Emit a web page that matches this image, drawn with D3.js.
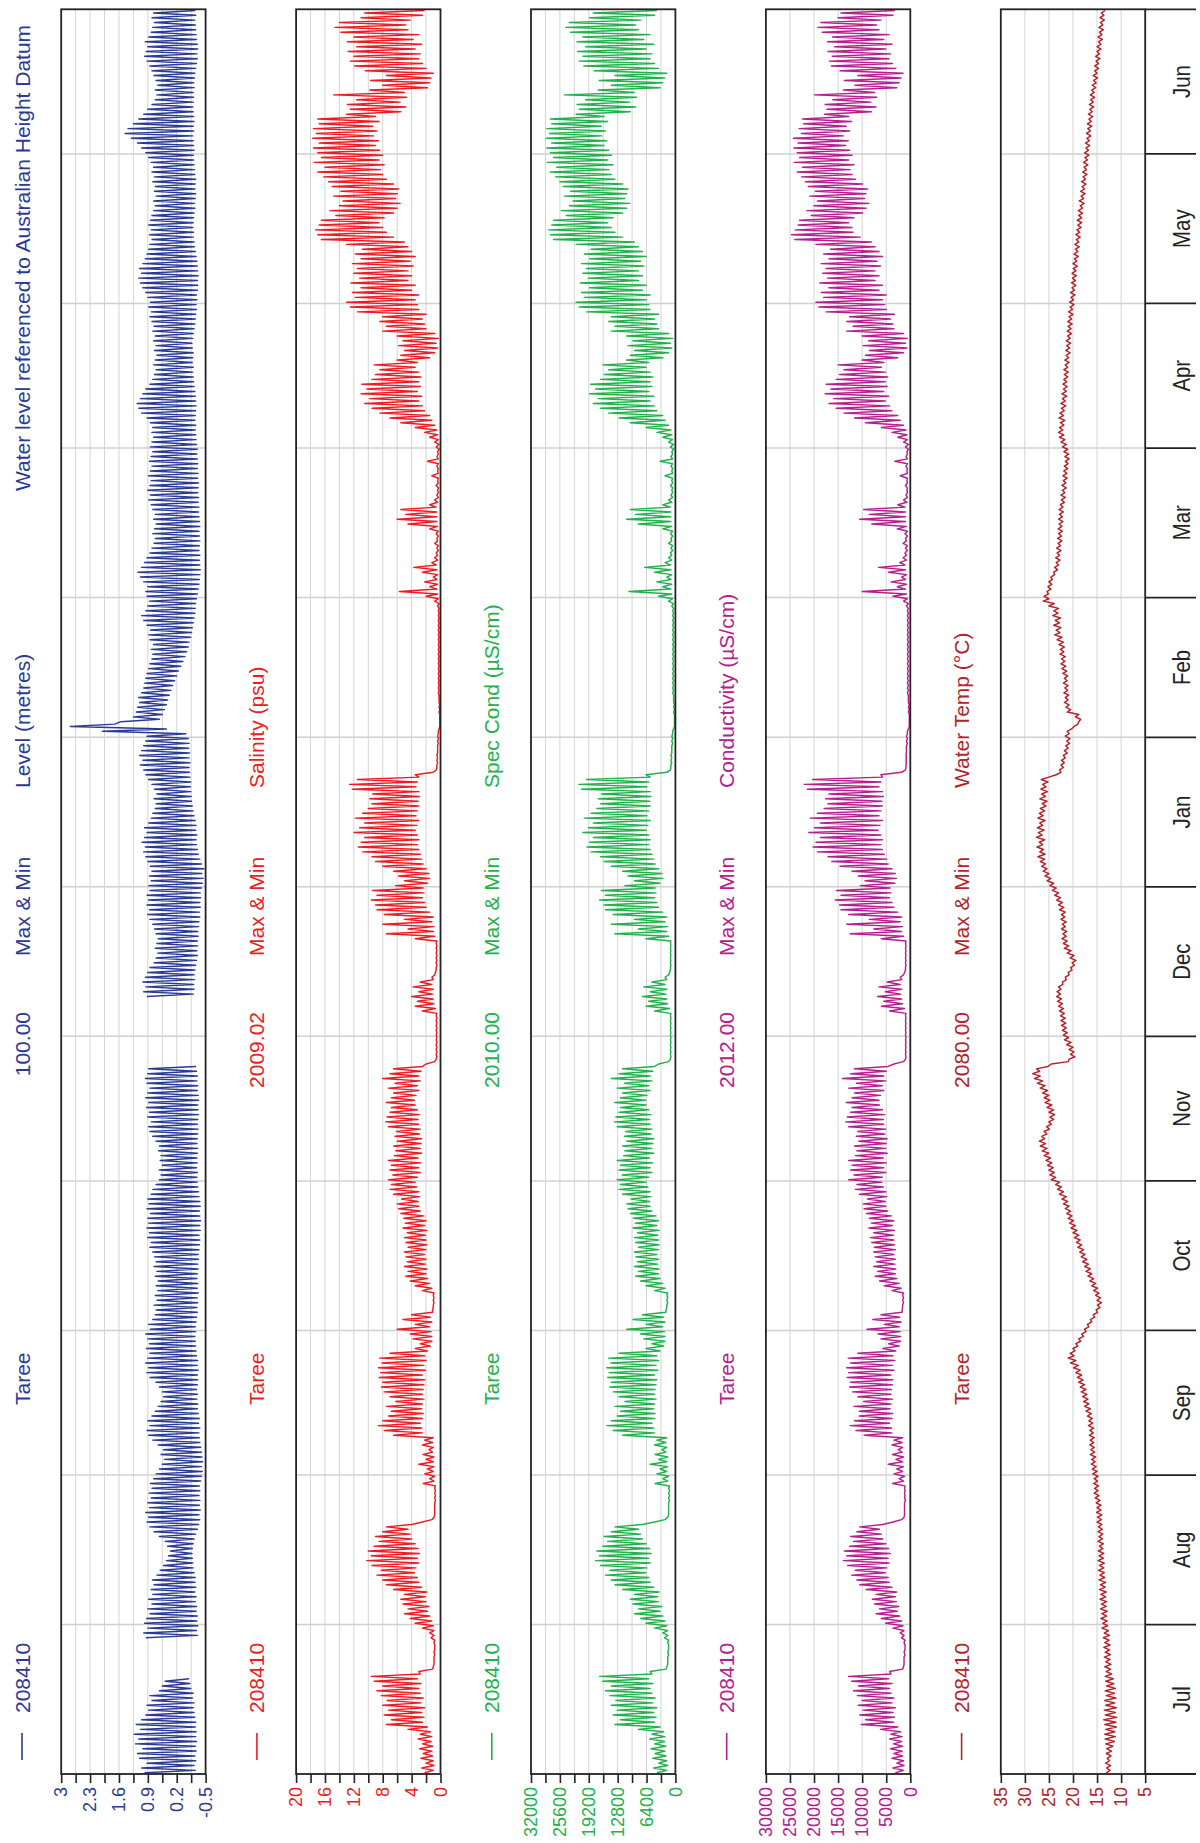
<!DOCTYPE html>
<html><head><meta charset="utf-8">
<script src="https://cdn.jsdelivr.net/npm/d3@7"></script>
<style>body{margin:0;background:#fff}svg{display:block}text{font-family:"Liberation Sans",Arial,Helvetica,sans-serif}</style>
</head><body>
<svg id="chart" width="1200" height="1843"></svg>
<script>
// ---------- time / categories ----------
const START = Date.UTC(2011, 6, 1), END = Date.UTC(2012, 6, 1);
const monthLabels = ["Jul","Aug","Sep","Oct","Nov","Dec","Jan","Feb","Mar","Apr","May","Jun"];
const siteId = "208410", siteName = "Taree", statLabel = "Max & Min";

// ---------- tick labels ----------
const levelTicks = [3, 2.3, 1.6, 0.9, 0.2, -0.5];
const levelMinor = [2.65, 1.95, 1.25, 0.55, -0.15];
const salTicks = [20, 16, 12, 8, 4, 0];
const salMinor = [18, 14, 10, 6, 2];
const specTicks = [32000, 25600, 19200, 12800, 6400, 0];
const specMinor = [28800, 22400, 16000, 9600, 3200];
const condTicks = [30000, 25000, 20000, 15000, 10000, 5000, 0];
const tempTicks = [35, 30, 25, 20, 15, 10, 5];

// ---------- daily Max & Min values (day 0 = 1 Jul) ----------
const levelMax = [
0.98,1.05,0.92,1.10,1.15,1.02,1.20,1.12,1.23,1.08,
1.18,1.05,0.95,0.88,0.92,0.80,0.85,0.62,0.55,0.48,
null,null,null,null,null,null,null,null,
0.95,1.00,0.90,0.98,0.93,0.85,0.90,0.80,0.88,0.78,
0.82,0.75,0.79,0.68,0.60,0.52,0.45,0.40,0.35,0.42,
0.48,0.62,0.75,0.85,0.92,0.88,0.95,0.86,0.90,0.82,
0.87,0.80,0.84,0.76,0.70,0.62,0.55,0.50,0.58,0.52,
0.65,0.78,0.88,0.92,0.85,0.90,0.80,0.72,0.65,0.58,
0.52,0.55,0.62,0.70,0.85,0.92,0.88,0.95,0.90,0.85,
0.93,0.86,0.90,0.95,0.84,0.88,0.78,0.72,0.70,0.75,
0.68,0.72,0.66,0.70,0.65,0.72,0.68,0.75,0.70,0.74,
0.78,0.85,0.82,0.90,0.86,0.92,0.88,0.90,0.84,0.92,
0.87,0.90,0.82,0.78,0.70,0.62,0.58,0.62,0.55,0.60,
0.58,0.64,0.62,0.70,0.78,0.85,0.88,0.82,0.90,0.86,
0.93,0.88,0.95,0.90,0.85,0.92,0.96,0.90,0.88,
null,null,null,null,null,null,null,null,null,null,null,null,null,null,
0.92,1.00,0.95,1.02,0.96,0.90,0.85,0.75,0.70,0.66,
0.72,0.68,0.65,0.70,0.74,0.78,0.85,0.90,0.86,0.92,
0.88,0.92,0.85,0.88,0.82,0.86,0.80,0.84,0.90,0.95,
1.00,0.96,1.04,0.98,0.92,0.98,0.88,0.82,0.78,0.72,
0.70,0.75,0.68,0.74,0.80,0.88,0.95,1.00,1.08,1.02,
1.10,1.05,1.00,0.95,0.92,2.00,2.78,1.55,1.25,1.18,
1.15,1.10,1.12,1.05,1.00,0.98,0.95,0.92,0.88,0.85,
0.80,0.78,0.82,0.76,0.85,0.88,0.84,0.92,1.00,1.05,
0.95,0.90,0.86,0.92,0.95,0.90,1.00,1.08,1.14,1.05,
0.98,0.92,0.85,0.80,0.75,0.72,0.78,0.74,0.70,0.76,
0.72,0.78,0.82,0.88,0.84,0.90,0.85,0.82,0.88,0.84,
0.80,0.86,0.82,0.78,0.84,0.80,0.76,0.80,0.78,0.84,
0.92,1.05,1.12,1.16,1.08,1.02,0.95,0.85,0.78,0.74,
0.70,0.76,0.72,0.68,0.74,0.70,0.76,0.72,0.78,0.75,
0.80,0.85,0.82,0.88,0.84,0.90,0.95,1.02,1.08,1.12,
1.05,1.10,1.02,0.96,0.92,0.88,0.85,0.80,0.86,0.82,
0.88,0.84,0.80,0.76,0.72,0.76,0.70,0.74,0.72,0.78,
0.74,0.80,0.76,0.82,0.88,0.95,1.05,1.15,1.30,1.45,
1.38,1.25,1.12,1.00,0.90,0.80,0.72,0.68,0.72,0.66,
0.70,0.75,0.80,0.85,0.92,0.98,0.94,0.90,0.96,0.88,
0.82,0.78,0.74,0.80,0.76];
const levelMin = [
-0.25,-0.22,-0.26,-0.24,-0.27,-0.25,-0.28,-0.26,-0.27,-0.25,
-0.26,-0.24,-0.22,-0.20,-0.22,-0.18,-0.20,-0.14,-0.12,-0.10,
null,null,null,null,null,null,null,null,
-0.30,-0.28,-0.31,-0.29,-0.30,-0.27,-0.28,-0.25,-0.27,-0.24,
-0.26,-0.24,-0.25,-0.22,-0.20,-0.19,-0.18,-0.17,-0.18,-0.20,
-0.22,-0.26,-0.30,-0.33,-0.36,-0.34,-0.37,-0.35,-0.36,-0.34,
-0.36,-0.35,-0.38,-0.40,-0.42,-0.40,-0.43,-0.41,-0.40,-0.38,
-0.36,-0.35,-0.34,-0.36,-0.33,-0.35,-0.32,-0.30,-0.31,-0.29,
-0.30,-0.28,-0.30,-0.31,-0.30,-0.32,-0.30,-0.31,-0.28,-0.27,
-0.26,-0.25,-0.24,-0.26,-0.25,-0.27,-0.28,-0.30,-0.29,-0.31,
-0.30,-0.32,-0.30,-0.31,-0.29,-0.30,-0.32,-0.31,-0.33,-0.32,
-0.34,-0.35,-0.36,-0.34,-0.37,-0.36,-0.38,-0.36,-0.35,-0.37,
-0.36,-0.34,-0.33,-0.31,-0.30,-0.29,-0.30,-0.28,-0.30,-0.29,
-0.30,-0.31,-0.29,-0.30,-0.31,-0.32,-0.30,-0.31,-0.33,-0.32,
-0.31,-0.33,-0.32,-0.30,-0.31,-0.29,-0.30,-0.28,-0.27,
null,null,null,null,null,null,null,null,null,null,null,null,null,null,
-0.20,-0.22,-0.21,-0.23,-0.22,-0.24,-0.26,-0.28,-0.30,-0.29,
-0.31,-0.30,-0.32,-0.31,-0.33,-0.34,-0.36,-0.35,-0.37,-0.36,
-0.38,-0.37,-0.40,-0.42,-0.44,-0.41,-0.46,-0.40,-0.36,-0.32,
-0.30,-0.28,-0.27,-0.29,-0.26,-0.27,-0.25,-0.22,-0.20,-0.18,
-0.16,-0.15,-0.14,-0.13,-0.14,-0.12,-0.11,-0.10,-0.12,-0.10,
-0.11,-0.09,-0.10,-0.08,-0.02,0.45,1.70,0.62,0.55,0.50,
0.45,0.42,0.38,0.34,0.30,0.25,0.20,0.16,0.10,0.05,
0.00,-0.04,-0.08,-0.10,-0.14,-0.16,-0.18,-0.20,-0.22,-0.24,
-0.25,-0.26,-0.28,-0.30,-0.32,-0.34,-0.35,-0.36,-0.37,-0.36,
-0.35,-0.36,-0.34,-0.35,-0.36,-0.35,-0.34,-0.36,-0.35,-0.34,
-0.33,-0.34,-0.32,-0.33,-0.31,-0.32,-0.33,-0.31,-0.32,-0.30,
-0.31,-0.30,-0.29,-0.30,-0.28,-0.27,-0.26,-0.25,-0.26,-0.24,
-0.25,-0.26,-0.27,-0.26,-0.25,-0.24,-0.22,-0.21,-0.20,-0.19,
-0.20,-0.18,-0.19,-0.20,-0.18,-0.17,-0.19,-0.20,-0.22,-0.24,
-0.25,-0.26,-0.28,-0.27,-0.29,-0.28,-0.30,-0.31,-0.30,-0.32,
-0.31,-0.30,-0.29,-0.27,-0.25,-0.23,-0.22,-0.20,-0.21,-0.19,
-0.20,-0.21,-0.22,-0.24,-0.23,-0.25,-0.26,-0.24,-0.25,-0.26,
-0.24,-0.23,-0.22,-0.21,-0.20,-0.22,-0.21,-0.20,-0.19,-0.21,
-0.20,-0.22,-0.21,-0.20,-0.19,-0.20,-0.21,-0.20,-0.22,-0.21,
-0.23,-0.24,-0.26,-0.28,-0.30,-0.29,-0.31,-0.30,-0.28,-0.27,
-0.26,-0.25,-0.24,-0.26,-0.25];

const salMax = [
2.2,2.6,2.0,2.7,2.4,2.9,2.5,3.1,2.8,4.5,
7.5,6.8,7.8,7.2,8.0,7.4,8.2,8.8,8.0,9.2,
9.6,3.0,1.0,0.9,0.9,0.9,0.8,0.9,1.3,1.5,
2.5,3.5,4.2,5.0,4.5,5.2,5.5,5.0,6.5,7.5,
8.0,8.8,8.2,9.5,10.2,9.6,10.0,9.2,8.5,9.0,
8.0,7.5,2.5,0.9,0.8,0.8,0.8,0.8,0.8,0.8,
2.4,1.5,2.2,1.8,3.0,2.0,2.4,1.6,2.5,2.2,
6.5,7.8,8.6,8.0,7.2,6.8,7.5,6.2,7.0,7.8,
8.2,8.0,8.5,8.3,8.6,8.1,8.4,7.0,3.5,2.8,
3.8,4.2,6.0,3.5,5.2,4.0,1.1,1.0,1.0,1.0,
2.5,3.5,4.2,4.8,4.5,5.0,4.6,4.8,5.0,4.5,
4.8,5.0,4.6,5.2,4.9,5.1,5.5,5.8,6.0,5.4,
6.5,7.0,6.8,7.2,6.6,7.0,6.8,7.2,6.4,6.2,
6.5,6.0,6.3,6.1,7.2,7.6,7.4,7.0,6.8,7.5,
6.8,6.5,7.2,6.3,8.0,7.0,6.5,2.0,0.6,0.6,
0.6,0.6,0.6,0.6,0.6,0.6,0.6,0.6,2.5,3.5,
3.2,4.0,3.0,3.8,2.8,1.2,0.7,0.6,0.6,0.6,
0.6,0.6,0.6,3.5,7.5,4.5,8.0,5.0,7.8,8.8,
9.0,9.6,8.8,9.4,6.2,5.0,5.8,6.5,8.0,9.0,
9.5,10.8,11.4,11.0,10.5,12.0,11.2,10.5,11.8,10.8,
10.0,9.5,9.8,9.4,12.2,12.6,11.5,3.5,0.6,0.5,
0.5,0.5,0.4,0.4,0.4,0.4,0.3,0.1,0.1,0.1,
0.2,0.2,0.2,0.2,0.3,0.3,0.3,0.3,0.3,0.3,
0.3,0.3,0.3,0.3,0.3,0.3,0.3,0.3,0.3,0.3,
0.3,0.3,0.4,0.8,2.0,5.7,1.5,2.2,1.0,2.5,
3.7,1.2,0.8,0.6,0.5,0.8,0.5,0.6,1.5,4.5,
6.0,4.8,5.5,1.5,0.8,0.5,0.4,0.6,0.4,1.2,
0.4,0.5,1.8,0.5,0.4,0.6,0.8,1.5,2.2,3.5,
5.5,7.0,8.4,9.5,10.5,9.8,11.0,10.2,10.9,9.5,
9.0,8.4,9.2,6.0,5.5,5.0,5.8,5.2,6.0,8.0,
7.5,8.4,8.0,11.5,12.5,13.0,11.8,12.2,11.0,12.4,
11.2,12.0,11.5,12.2,11.0,11.8,10.8,13.0,16.5,17.0,
17.3,16.8,16.5,14.5,15.3,14.0,13.5,14.8,13.8,15.0,
15.5,16.2,17.0,16.0,17.5,16.5,17.0,17.6,16.8,17.7,
17.2,17.6,16.8,17.0,13.0,12.5,12.9,11.6,14.8,9.8,
8.0,9.7,7.5,10.4,11.9,12.5,12.0,12.8,11.6,12.9,
12.0,13.8,14.6,14.0,11.0,10.5];
const salMin = [
1.0,0.9,1.0,1.1,1.2,1.1,1.3,1.2,1.4,1.8,
2.5,2.3,2.6,2.2,2.7,2.4,2.8,3.0,2.7,3.2,
2.8,1.1,0.9,0.9,0.8,0.8,0.8,0.8,0.9,0.9,
1.0,1.2,1.5,1.8,1.6,2.0,2.1,1.9,2.6,3.0,
3.2,3.6,3.4,3.0,3.2,2.9,3.1,3.5,4.0,4.2,
4.5,4.0,1.2,0.8,0.8,0.8,0.7,0.7,0.7,0.7,
0.9,0.8,1.0,0.9,1.0,0.9,1.1,1.0,1.1,1.0,
2.5,2.6,2.8,2.5,2.4,2.6,2.5,2.3,2.5,2.4,
2.3,2.2,2.5,2.1,2.3,2.0,2.2,1.8,1.4,1.2,
1.2,1.3,1.5,1.2,1.4,1.1,1.0,0.9,0.9,0.9,
1.2,1.5,1.8,2.0,1.9,2.1,2.0,2.2,2.0,1.9,
2.0,2.1,1.9,2.2,2.0,2.3,2.8,3.0,3.1,2.9,
3.0,3.3,3.5,3.2,2.8,3.0,2.7,3.1,2.6,2.8,
2.7,2.6,2.9,2.8,3.0,3.1,2.9,3.2,3.5,3.6,
3.4,3.0,3.2,2.8,3.0,2.7,2.5,0.8,0.5,0.5,
0.5,0.5,0.5,0.5,0.5,0.5,0.5,0.5,0.7,0.9,
1.0,1.1,1.0,1.2,1.0,0.8,0.6,0.5,0.5,0.5,
0.5,0.5,0.5,0.8,1.0,0.9,1.2,1.0,1.5,2.0,
2.2,2.5,2.3,2.4,1.8,1.5,1.6,2.0,2.4,2.6,
2.8,3.0,3.2,3.0,3.2,3.5,3.3,3.0,3.4,3.2,
3.0,3.1,2.9,3.0,3.4,3.2,3.0,1.0,0.5,0.4,
0.4,0.4,0.4,0.3,0.3,0.3,0.2,0.1,0.1,0.1,
0.1,0.1,0.2,0.2,0.2,0.2,0.2,0.2,0.2,0.2,
0.2,0.2,0.2,0.2,0.2,0.2,0.2,0.2,0.2,0.2,
0.2,0.2,0.2,0.3,0.4,0.5,0.4,0.5,0.4,0.5,
0.6,0.4,0.4,0.3,0.3,0.4,0.3,0.3,0.4,0.5,
0.5,0.5,0.6,0.4,0.3,0.3,0.3,0.3,0.3,0.3,
0.3,0.3,0.3,0.3,0.2,0.2,0.3,0.4,0.5,0.8,
1.2,1.5,2.2,2.5,3.0,2.6,3.2,2.8,3.0,2.7,
3.0,3.5,3.2,1.5,0.8,0.4,0.6,0.3,0.8,2.0,
2.2,2.5,2.0,3.0,3.2,3.5,3.0,4.0,3.5,4.5,
4.0,4.5,3.8,4.2,3.5,4.0,4.5,5.0,6.5,7.5,
8.0,8.5,7.8,6.5,6.0,5.6,6.2,6.0,5.8,6.5,
7.5,8.0,8.3,7.8,8.5,8.0,8.4,9.0,8.6,9.3,
8.8,9.4,8.5,9.0,5.5,4.8,5.6,4.7,5.0,1.8,
1.5,1.3,1.0,2.0,2.5,3.0,2.8,3.5,2.6,3.8,
3.0,4.5,4.8,4.2,2.5,2.2];

const specMax = [
4100,4800,3700,5000,4500,5400,4600,5700,5200,8200,
13400,12200,13800,12900,14200,13200,14500,15500,14200,16100,
16800,5600,1900,1700,1700,1700,1500,1700,2400,2800,
4600,6500,7700,9100,8200,9400,10000,9100,11700,13400,
14200,15500,14500,16600,17700,16800,17400,16100,15000,15800,
14200,13400,4600,1700,1500,1500,1500,1500,1500,1500,
4500,2800,4100,3400,5600,3700,4500,3000,4600,4100,
11700,13800,15200,14200,12900,12200,13400,11200,12500,13800,
14500,14200,15000,14700,15200,14300,14800,12500,6500,5200,
7000,7700,10800,6500,9400,7300,2100,1900,1900,1900,
4600,6500,7700,8800,8200,9100,8400,8800,9100,8200,
8800,9100,8400,9400,8900,9300,10000,10500,10800,9800,
11700,12500,12200,12900,11800,12500,12200,12900,11500,11200,
11700,10800,11300,11000,12900,13500,13200,12500,12200,13400,
12200,11700,12900,11300,14200,12500,11700,3700,1100,1100,
1100,1100,1100,1100,1100,1100,1100,1100,4600,6500,
5900,7300,5600,7000,5200,2300,1300,1100,1100,1100,
1100,1100,1100,6500,13400,8200,14200,9100,13800,15500,
15800,16800,15500,16400,11200,9100,10500,11700,14200,15800,
16600,18700,19600,19000,18200,20500,19300,18200,20200,18700,
17400,16600,17100,16400,20800,21400,19700,6500,1100,1000,
1000,1000,800,800,800,800,600,200,200,200,
400,400,400,400,600,600,600,600,600,600,
600,600,600,600,600,600,600,600,600,600,
600,600,800,1500,3700,10300,2800,4100,1900,4600,
6800,2300,1500,1100,1000,1500,1000,1100,2800,8200,
10800,8800,10000,2800,1500,1000,800,1100,800,2300,
800,1000,3400,1000,800,1100,1500,2800,4100,6500,
10000,12500,14800,16600,18200,17100,19000,17700,18800,16600,
15800,14800,16100,10800,10000,9100,10500,9400,10800,14200,
13400,14800,14200,19700,21300,22000,20200,20800,19000,21100,
19300,20500,19700,20800,19000,20200,18700,22000,27000,27700,
28100,27400,27000,24200,25300,23500,22700,24600,23200,24900,
25600,26600,27700,26300,28400,27000,27700,28500,27400,28600,
27900,28500,27400,27700,22000,21300,21800,19900,24600,17100,
14200,16900,13400,18000,20300,21300,20500,21700,19900,21800,
20500,23200,24300,23500,19000,18200];
const specMin = [
1900,1700,1900,2100,2300,2100,2400,2300,2600,3400,
4600,4300,4800,4100,5000,4500,5200,5600,5000,5900,
5200,2100,1700,1700,1500,1500,1500,1500,1700,1700,
1900,2300,2800,3400,3000,3700,3900,3600,4800,5600,
5900,6600,6300,5600,5900,5400,5700,6500,7300,7700,
8200,7300,2300,1500,1500,1500,1300,1300,1300,1300,
1700,1500,1900,1700,1900,1700,2100,1900,2100,1900,
4600,4800,5200,4600,4500,4800,4600,4300,4600,4500,
4300,4100,4600,3900,4300,3700,4100,3400,2600,2300,
2300,2400,2800,2300,2600,2100,1900,1700,1700,1700,
2300,2800,3400,3700,3600,3900,3700,4100,3700,3600,
3700,3900,3600,4100,3700,4300,5200,5600,5700,5400,
5600,6100,6500,5900,5200,5600,5000,5700,4800,5200,
5000,4800,5400,5200,5600,5700,5400,5900,6500,6600,
6300,5600,5900,5200,5600,5000,4600,1500,1000,1000,
1000,1000,1000,1000,1000,1000,1000,1000,1300,1700,
1900,2100,1900,2300,1900,1500,1100,1000,1000,1000,
1000,1000,1000,1500,1900,1700,2300,1900,2800,3700,
4100,4600,4300,4500,3400,2800,3000,3700,4500,4800,
5200,5600,5900,5600,5900,6500,6100,5600,6300,5900,
5600,5700,5400,5600,6300,5900,5600,1900,1000,800,
800,800,800,600,600,600,400,200,200,200,
200,200,400,400,400,400,400,400,400,400,
400,400,400,400,400,400,400,400,400,400,
400,400,400,600,800,1000,800,1000,800,1000,
1100,800,800,600,600,800,600,600,800,1000,
1000,1000,1100,800,600,600,600,600,600,600,
600,600,600,600,400,400,600,800,1000,1500,
2300,2800,4100,4600,5600,4800,5900,5200,5600,5000,
5600,6500,5900,2800,1500,800,1100,600,1500,3700,
4100,4600,3700,5600,5900,6500,5600,7300,6500,8200,
7300,8200,7000,7700,6500,7300,8200,9100,11700,13400,
14200,15000,13800,11700,10800,10100,11200,10800,10500,11700,
13400,14200,14700,13800,15000,14200,14800,15800,15200,16300,
15500,16400,15000,15800,10000,8800,10100,8600,9100,3400,
2800,2400,1900,3700,4600,5600,5200,6500,4800,7000,
5600,8200,8800,7700,4600,4100];

const condMax = [
3100,3600,2800,3800,3400,4100,3500,4300,4000,6200,
10200,9300,10500,9800,10800,10000,11000,11800,10800,12200,
12800,4300,1400,1300,1300,1300,1100,1300,1800,2100,
3600,5100,6000,7100,6400,7400,7900,7100,9200,10500,
11100,12200,11400,13000,13900,13200,13700,12600,11800,12400,
11100,10500,3600,1300,1200,1200,1200,1200,1200,1200,
3700,2300,3400,2800,4600,3000,3700,2500,3800,3400,
9600,11300,12500,11600,10600,10600,11700,9700,10900,12000,
12600,12400,13100,12800,13200,12400,12900,10900,5700,4500,
6100,6700,9000,5400,7800,6100,1700,1600,1600,1600,
3800,5400,6400,7300,6800,7600,7000,7300,7600,7500,
8000,8300,7600,8600,8100,8500,9100,9600,9800,8900,
10600,11400,11100,12800,11700,12400,12100,12800,11400,11100,
11600,10700,11200,10900,12800,13400,13100,12400,12100,13300,
12100,11600,12800,11200,14100,12400,11600,3400,1000,1000,
1000,1000,1000,1000,1000,1000,1000,1000,4300,6000,
5500,6800,5200,6500,4800,2100,1200,1000,1000,1000,
1000,1000,1000,6000,12500,7600,13200,8500,12800,14400,
14700,15600,14400,15300,10400,9400,10800,12100,14600,16300,
17100,19300,20200,19600,18700,21100,19900,18700,20800,19300,
17900,17100,17600,16900,21400,22000,20300,6100,1000,900,
900,900,800,800,800,800,600,200,200,200,
400,400,400,400,600,600,600,600,600,600,
600,600,600,600,600,600,600,600,600,600,
600,600,800,1400,3600,10000,2700,4000,1800,4500,
6600,2200,1500,1100,1000,1500,1000,1100,2700,8000,
10500,8500,9700,2600,1400,900,700,1000,700,2100,
700,900,3200,900,700,1000,1400,2600,3800,6000,
9300,11600,13800,15400,16900,15900,17700,16500,17500,15400,
14700,13800,15000,10000,9300,8500,9800,8700,10000,13200,
11900,13200,12600,17500,19000,19600,18000,18500,16900,18800,
17200,18200,17500,18500,16900,18000,16600,19600,24000,24700,
23900,23300,23000,20600,21500,20000,19300,20900,19700,21200,
21800,22600,23500,22400,24100,23000,23500,24200,23300,24300,
22600,23100,22200,22400,17800,17300,17700,16100,19900,13900,
11500,13700,10900,14600,16400,16800,16200,17100,15700,17200,
16200,18300,19200,18600,15000,14400];
const condMin = [
1400,1300,1400,1600,1700,1600,1800,1700,2000,2600,
3500,3300,3600,3100,3800,3400,4000,4300,3800,4500,
4000,1600,1300,1300,1100,1100,1100,1100,1300,1300,
1500,1800,2200,2700,2400,2900,3100,2800,3800,4400,
4600,5200,4900,4400,4600,4200,4500,5100,5700,6000,
6400,5700,1800,1200,1200,1200,1000,1100,1100,1100,
1400,1200,1600,1400,1600,1400,1700,1600,1700,1600,
3800,3900,4300,3800,3700,4200,4000,3700,4000,3900,
3700,3600,4000,3400,3700,3200,3600,3000,2300,2000,
2000,2100,2300,1900,2200,1700,1600,1400,1400,1400,
1900,2300,2800,3100,3000,3200,3100,3400,3100,3300,
3400,3500,3300,3700,3400,3900,4700,5100,5200,4900,
5100,5600,5900,5800,5100,5500,5000,5600,4800,5100,
5000,4800,5300,5100,5500,5600,5300,5800,6400,6500,
6200,5500,5800,5100,5500,5000,4600,1400,900,900,
900,900,900,900,900,900,900,900,1200,1600,
1800,2000,1800,2100,1800,1400,1000,900,900,900,
900,900,900,1400,1800,1600,2100,1800,2600,3400,
3800,4300,4000,4200,3200,2900,3100,3800,4600,4900,
5400,5800,6100,5800,6100,6700,6300,5800,6500,6100,
5800,5900,5600,5800,6500,6100,5800,1800,900,800,
800,800,800,600,600,600,400,200,200,200,
200,200,400,400,400,400,400,400,400,400,
400,400,400,400,400,400,400,400,400,400,
400,400,400,600,800,1000,800,1000,800,1000,
1100,800,800,600,600,800,600,600,800,1000,
1000,1000,1100,700,600,600,600,600,600,600,
600,600,600,600,400,400,600,700,900,1400,
2100,2600,3800,4300,5200,4500,5500,4800,5200,4700,
5200,6000,5500,2600,1400,700,1000,600,1400,3400,
3600,4100,3300,5000,5300,5800,5000,6500,5800,7300,
6500,7300,6200,6900,5800,6500,7300,8100,10400,11900,
12100,12800,11700,9900,9200,8600,9500,9200,8900,9900,
11400,12100,12500,11700,12800,12100,12600,13400,12900,13900,
12600,13300,12200,12800,8100,7100,8200,7000,7400,2800,
2300,1900,1500,3000,3700,4400,4100,5100,3800,5500,
4400,6500,7000,6100,3600,3200];

const tempMax = [
13.1,13.0,13.2,12.9,13.1,13.0,13.2,13.3,13.4,13.2,
13.4,13.6,13.3,13.5,13.2,13.4,13.1,13.3,13.0,13.2,
13.3,13.1,13.4,13.2,13.5,13.3,13.6,13.4,13.7,13.5,
14.0,13.8,14.2,14.0,14.3,14.1,14.4,14.2,14.5,14.3,
14.6,14.4,14.7,14.5,14.8,14.6,14.7,14.5,14.8,14.6,
14.8,14.7,15.0,14.9,15.1,15.0,15.2,15.4,15.6,15.5,
15.7,15.6,15.9,16.0,16.2,16.1,16.4,16.3,16.5,16.4,
16.6,16.5,16.8,16.7,17.0,17.3,17.6,17.8,18.0,18.3,
18.5,18.8,19.1,19.4,19.9,20.5,21.0,20.6,20.0,19.4,
18.8,18.2,17.6,17.0,16.4,15.8,15.2,14.9,15.0,15.3,
15.7,16.1,16.5,16.9,17.3,17.6,18.0,18.3,18.6,19.0,
19.3,19.7,20.0,20.4,20.7,21.0,21.3,21.6,22.0,22.3,
22.8,23.2,23.6,24.5,24.8,25.0,25.3,25.6,26.0,26.4,
26.8,27.0,26.5,26.0,25.5,25.0,24.8,25.0,25.4,25.8,
26.0,26.3,26.8,27.4,28.0,28.4,27.6,24.5,20.8,20.5,
20.8,21.3,21.8,22.0,22.2,22.4,22.5,22.6,22.8,23.0,
23.2,23.4,23.3,23.0,22.2,21.6,21.0,20.5,20.2,20.6,
21.2,21.8,22.0,22.3,22.1,22.4,22.2,22.5,22.4,22.8,
23.0,23.4,23.8,24.3,24.8,25.4,25.8,26.2,26.5,26.8,
27.3,26.9,27.5,27.0,27.6,27.2,27.4,26.9,27.3,27.0,
26.8,26.4,26.9,26.5,26.7,26.3,26.6,23.5,22.8,22.5,
22.4,22.0,21.8,21.5,21.3,21.6,21.2,19.8,18.8,19.5,
21.2,21.5,21.8,21.6,21.9,21.7,22.0,21.8,22.1,22.3,
22.5,22.4,22.7,22.6,22.9,23.3,23.8,23.5,24.0,23.7,
24.2,24.0,25.0,26.2,26.0,25.4,25.2,25.0,24.6,24.0,
23.8,23.5,23.6,23.3,23.4,23.1,23.2,23.0,23.1,22.9,
23.0,22.8,22.9,22.6,22.4,22.5,22.2,22.3,22.0,22.1,
21.9,21.8,21.6,21.7,21.9,22.2,22.5,22.8,23.0,22.8,
22.6,22.9,22.7,22.4,22.5,22.2,22.3,22.0,22.1,21.9,
21.8,21.9,21.6,21.7,21.4,21.5,21.3,21.4,21.1,21.2,
21.0,21.1,20.8,20.9,20.6,20.7,20.4,20.5,20.2,20.3,
20.1,20.2,19.9,20.0,19.7,19.8,19.5,19.6,19.3,19.4,
19.2,19.0,19.1,18.8,18.9,18.5,18.7,18.3,18.4,18.1,
18.2,17.9,18.0,17.7,17.8,17.5,17.6,17.3,17.4,17.1,
17.2,16.9,17.0,16.7,16.8,16.5,16.6,16.3,16.4,16.1,
16.0,15.7,15.8,15.5,15.5,15.2,15.3,15.0,15.0,14.7,
14.8,14.5,14.6,14.3,14.4,14.1];
const tempMin = [
12.3,12.2,12.4,12.1,12.0,11.7,11.4,11.2,11.3,11.0,
11.1,10.9,11.2,11.0,11.3,11.1,11.4,11.2,11.5,11.6,
12.0,12.2,12.1,12.3,12.2,12.4,12.3,12.5,12.4,12.6,
12.8,12.9,13.0,12.9,13.1,13.0,13.2,13.1,13.3,13.2,
13.4,13.5,13.6,13.5,13.7,13.6,13.8,13.7,13.9,13.8,
13.9,14.0,14.1,14.0,14.2,14.2,14.4,14.6,14.8,14.7,
14.9,14.8,15.0,15.2,15.4,15.3,15.5,15.6,15.7,15.6,
15.8,15.7,15.9,16.0,16.2,16.4,16.7,16.9,17.1,17.3,
17.6,17.9,18.2,18.5,18.9,19.4,19.8,19.6,19.0,18.4,
17.8,17.3,16.7,16.1,15.5,14.9,14.4,14.1,14.3,14.6,
14.9,15.3,15.7,16.1,16.4,16.8,17.1,17.5,17.8,18.2,
18.5,18.8,19.2,19.5,19.9,20.2,20.5,20.8,21.1,21.4,
22.0,22.4,22.8,23.6,23.9,24.1,24.4,24.7,25.0,25.4,
25.7,25.9,25.4,24.9,24.5,24.0,23.8,24.0,24.4,24.8,
25.0,25.3,25.8,26.3,26.8,26.9,25.2,21.0,19.6,19.8,
20.0,20.4,20.9,21.2,21.4,21.5,21.6,21.8,22.0,22.2,
22.4,22.6,22.5,22.1,21.4,20.8,20.2,19.7,19.4,19.8,
20.4,20.9,21.2,21.4,21.3,21.6,21.4,21.7,21.6,21.9,
22.2,22.6,23.0,23.5,24.0,24.6,25.0,25.4,25.7,25.9,
25.8,26.1,26.3,25.9,26.4,26.0,26.3,25.8,26.2,25.9,
25.6,25.4,25.7,25.3,25.6,25.2,25.0,22.5,22.0,21.8,
21.6,21.2,21.0,20.7,20.6,20.8,20.3,19.0,18.4,18.8,
20.5,20.8,21.0,20.9,21.1,21.0,21.2,21.1,21.3,21.5,
21.7,21.6,21.9,21.8,22.0,22.3,22.7,22.5,22.8,22.6,
23.1,23.0,23.9,25.0,25.1,24.6,24.4,24.3,23.8,23.2,
23.0,22.7,22.8,22.5,22.6,22.3,22.4,22.2,22.3,22.1,
22.2,22.0,22.1,21.8,21.6,21.7,21.4,21.5,21.2,21.3,
21.1,21.0,20.8,20.9,21.1,21.4,21.7,21.9,22.1,21.9,
21.7,22.0,21.8,21.5,21.6,21.3,21.4,21.2,21.3,21.1,
21.0,21.1,20.8,20.9,20.6,20.7,20.5,20.6,20.3,20.4,
20.2,20.3,20.0,20.1,19.8,19.9,19.6,19.7,19.4,19.5,
19.3,19.4,19.1,19.2,18.9,19.0,18.7,18.8,18.5,18.6,
18.3,18.2,18.2,18.0,18.0,17.7,17.8,17.5,17.6,17.3,
17.4,17.1,17.2,16.9,17.0,16.7,16.8,16.5,16.6,16.3,
16.4,16.1,16.2,15.9,16.0,15.7,15.8,15.5,15.6,15.3,
15.2,14.9,15.0,14.7,14.7,14.4,14.5,14.2,14.2,13.9,
14.0,13.7,13.8,13.5,13.6,13.3];

// ---------- drawing ----------
const W = 1843;                    // long side (time axis) in unrotated frame
const svg = d3.select("#chart");
const g = svg.append("g").attr("transform", `translate(0,${W}) rotate(-90)`);
const DAY = 864e5;
const x = d3.scaleUtc().domain([new Date(START), new Date(END)]).range([69, 1833.7]);
const months = d3.utcMonth.range(new Date(START), new Date(END));
const inner = months.slice(1);

const panelTop0 = 61.2, panelStep = 234.9, panelH = 144.4;
const panels = [
  {max: levelMax, min: levelMin, dom: [-0.5, 3], major: levelTicks, minor: levelMinor, color: "#2b3a94", value: "100.00", unit: "Level (metres)", note: "Water level referenced to Australian Height Datum"},
  {max: salMax, min: salMin, dom: [0, 20], major: salTicks, minor: salMinor, color: "#ed1c24", value: "2009.02", unit: "Salinity (psu)"},
  {max: specMax, min: specMin, dom: [0, 32000], major: specTicks, minor: specMinor, color: "#22b14c", value: "2010.00", unit: "Spec Cond (\u00b5S/cm)"},
  {max: condMax, min: condMin, dom: [0, 30000], major: condTicks, minor: [], color: "#b5208e", value: "2012.00", unit: "Conductivity (\u00b5S/cm)"},
  {max: tempMax, min: tempMin, dom: [5, 35], major: tempTicks, minor: [], color: "#b2232a", value: "2080.00", unit: "Water Temp (\u00b0C)"}
];

const x0 = x.range()[0], x1 = x.range()[1];

panels.forEach((p, i) => {
  const top = panelTop0 + i * panelStep, bot = top + panelH;
  const y = d3.scaleLinear().domain(p.dom).range([bot, top]);
  const pg = g.append("g");
  const allTicks = p.major.concat(p.minor);

  // value grid
  pg.append("g").selectAll("line").data(allTicks.filter(t => t !== p.dom[0] && t !== p.dom[1]))
    .join("line").attr("x1", x0).attr("x2", x1).attr("y1", d => y(d)).attr("y2", d => y(d))
    .attr("stroke", "#d4d4d4").attr("stroke-width", 1);
  // month grid
  pg.append("g").selectAll("line").data(inner).join("line")
    .attr("x1", d => x(d)).attr("x2", d => x(d)).attr("y1", top).attr("y2", bot)
    .attr("stroke", "#d0d0d0").attr("stroke-width", 1.5);

  // data
  const pts = [];
  for (let k = 0; k < p.max.length; k++) {
    pts.push({t: new Date(START + (k + 0.25) * DAY), v: p.max[k]});
    pts.push({t: new Date(START + (k + 0.75) * DAY), v: p.min[k]});
  }
  const line = d3.line().defined(d => d.v != null).x(d => x(d.t)).y(d => y(d.v));
  const cid = "clip" + i;
  pg.append("clipPath").attr("id", cid).append("rect").attr("x", x0).attr("y", top).attr("width", x1 - x0).attr("height", panelH);
  pg.append("path").datum(pts).attr("d", line).attr("fill", "none")
    .attr("stroke", p.color).attr("stroke-width", 1.45).attr("stroke-linejoin", "round")
    .attr("clip-path", `url(#${cid})`);

  // frame
  pg.append("rect").attr("x", x0).attr("y", top).attr("width", x1 - x0).attr("height", panelH)
    .attr("fill", "none").attr("stroke", "#222").attr("stroke-width", 1.8);

  // axis
  const ax = d3.axisLeft(y).tickValues(allTicks).tickSize(9).tickPadding(4)
    .tickFormat(d => p.major.includes(d) ? String(d) : "");
  const axg = pg.append("g").attr("transform", `translate(${x0},0)`).call(ax);
  axg.select(".domain").remove();
  axg.selectAll(".tick line").attr("stroke", "#222").attr("stroke-width", 1.6);
  axg.selectAll(".tick text").attr("fill", p.color).style("font-size", "18px")
    .style("font-family", '"Liberation Sans",Arial,sans-serif');

  // legend row
  const base = top - 31.7;
  const lg = pg.append("g").attr("fill", p.color).style("font-size", "21px");
  lg.append("line").attr("x1", 83).attr("x2", 110).attr("y1", base - 7.5).attr("y2", base - 7.5)
    .attr("stroke", p.color).attr("stroke-width", 1.6);
  lg.append("text").attr("x", 130).attr("y", base).text(siteId);
  lg.append("text").attr("x", 438).attr("y", base).text(siteName);
  lg.append("text").attr("x", 831).attr("y", base).attr("text-anchor", "end").text(p.value);
  lg.append("text").attr("x", 887).attr("y", base).text(statLabel);
  lg.append("text").attr("x", 1055).attr("y", base).text(p.unit);
  if (p.note) lg.append("text").attr("x", 1352).attr("y", base).text(p.note);
});

// month band
const bandTop = panelTop0 + 4 * panelStep + panelH, bandBot = 1196;
const bounds = months.concat([new Date(END)]);
g.append("g").selectAll("line").data(bounds).join("line")
  .attr("x1", d => x(d)).attr("x2", d => x(d)).attr("y1", bandTop).attr("y2", bandBot)
  .attr("stroke", "#222").attr("stroke-width", 1.8);
g.append("g").selectAll("text").data(months).join("text")
  .attr("transform", (d, k) => `translate(${(x(d) + x(bounds[k + 1])) / 2},1190) scale(0.85,1)`)
  .attr("text-anchor", "middle").attr("fill", "#222").style("font-size", "24px")
  .text((d, k) => monthLabels[k]);
</script>
</body></html>
